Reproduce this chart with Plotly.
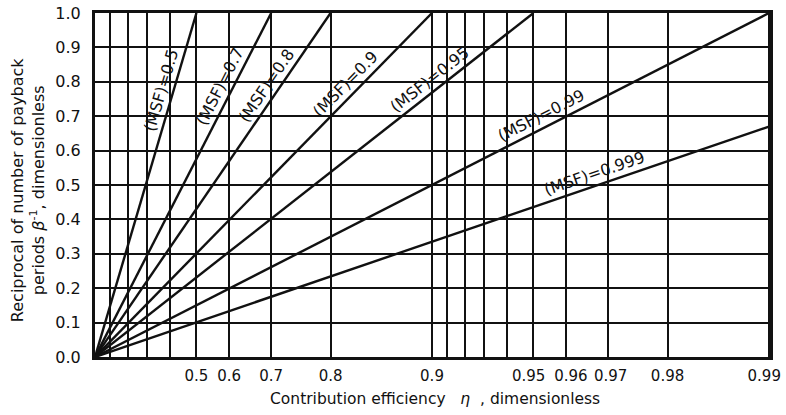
import math
import plotly.graph_objects as go

# (MSF) lines, each one runs from the origin (eta = 0, beta^-1 = 0) to its end point
msf = [0.5, 0.7, 0.8, 0.9, 0.95, 0.99, 0.999]
end_eta = [0.5, 0.7, 0.8, 0.9, 0.95, 0.99, 0.99]
end_beta = [1.0, 1.0, 1.0, 1.0, 1.0, 1.0, 0.67]
# height (beta^-1) where each label sits along its line
label_beta = [0.765, 0.77, 0.77, 0.77, 0.78, 0.67, 0.50]

# x axis: contribution efficiency, grid lines and labels
NB = "\u00a0"
grid_eta = [0.1, 0.2, 0.3, 0.4, 0.5, 0.6, 0.7, 0.8, 0.9,
            0.91, 0.92, 0.93, 0.94, 0.95, 0.96, 0.97, 0.98, 0.99]
grid_text = ["", "", "", "", "0.5", "0.6", "0.7", "0.8", "0.9",
             "", "", "", "", "0.95" + NB * 2, NB * 2 + "0.96", NB + "0.97",
             "0.98", "0.99" + NB * 2]
y_ticks = [0.0, 0.1, 0.2, 0.3, 0.4, 0.5, 0.6, 0.7, 0.8, 0.9, 1.0]

W, H = 786, 415
ML, MR, MT, MB = 95, 16, 13, 58
PW, PH = W - ML - MR, H - MT - MB
X_DECADES = 2.0  # log axis of (1 - eta) from 1 down to 0.01

FONT = "DejaVu Sans"

fig = go.Figure()
for m, e, b in zip(msf, end_eta, end_beta):
    fig.add_trace(go.Scatter(x=[1 - 0.0, 1 - e], y=[0.0, b], mode="lines",
                             line=dict(color="#111", width=2.4),
                             name="(MSF)=%g" % m, showlegend=False,
                             hoverinfo="skip"))

# line labels, rotated along each line
annotations = []
for m, e, b, lb in zip(msf, end_eta, end_beta, label_beta):
    lx_end = math.log10(1 - e)
    lx = lx_end * lb / b
    dx = (-lx_end / X_DECADES) * PW
    dy = b * PH
    ang = math.atan2(dy, dx)
    off = 12
    annotations.append(dict(
        x=lx, y=lb, xref="x", yref="y", text="(MSF)=%g" % m,
        showarrow=False, textangle=-math.degrees(ang),
        xanchor="center", yanchor="middle",
        xshift=-off * math.sin(ang), yshift=off * math.cos(ang),
        font=dict(family=FONT, size=16, color="#111")))

annotations.append(dict(
    x=-67 / PW, y=0.485, xref="paper", yref="paper",
    text="Reciprocal of number of payback<br>periods <i>β</i><sup>-1</sup>, dimensionless",
    showarrow=False, textangle=-90, xanchor="center", yanchor="middle",
    font=dict(family=FONT, size=16, color="#111")))
annotations.append(dict(
    x=340 / PW, y=-42 / PH, xref="paper", yref="paper",
    text="Contribution efficiency   <i>η</i>  , dimensionless",
    showarrow=False, xanchor="center", yanchor="middle",
    font=dict(family=FONT, size=15.5, color="#111")))

fig.update_layout(
    width=W, height=H,
    margin=dict(l=ML, r=MR, t=MT, b=MB),
    paper_bgcolor="white", plot_bgcolor="white",
    font=dict(family=FONT, color="#111"),
    annotations=annotations,
)
fig.update_xaxes(
    type="log", range=[0, -X_DECADES - 0.003],
    tickmode="array", tickvals=[1 - e for e in grid_eta], ticktext=grid_text,
    tickangle=0, automargin=False, ticklabeloverflow="allow",
    showgrid=True, gridcolor="#111", gridwidth=1.6,
    showline=True, linecolor="#111", linewidth=3, mirror=True,
    ticks="", ticklabelstandoff=3, zeroline=False,
    tickfont=dict(family=FONT, size=15, color="#111"),
)
fig.update_yaxes(
    range=[0, 1], tickmode="array", tickvals=y_ticks,
    ticktext=["%.1f" % v for v in y_ticks],
    automargin=False, ticklabeloverflow="allow",
    showgrid=True, gridcolor="#111", gridwidth=1.6,
    showline=True, linecolor="#111", linewidth=3, mirror=True,
    ticks="", ticklabelstandoff=8, zeroline=False,
    tickfont=dict(family=FONT, size=16, color="#111"),
)

# drop the browser's default body margin so the figure sits at the page corner
fig.write_html("out.html", config={"displayModeBar": False},
               post_script="document.body.style.margin='0';")
